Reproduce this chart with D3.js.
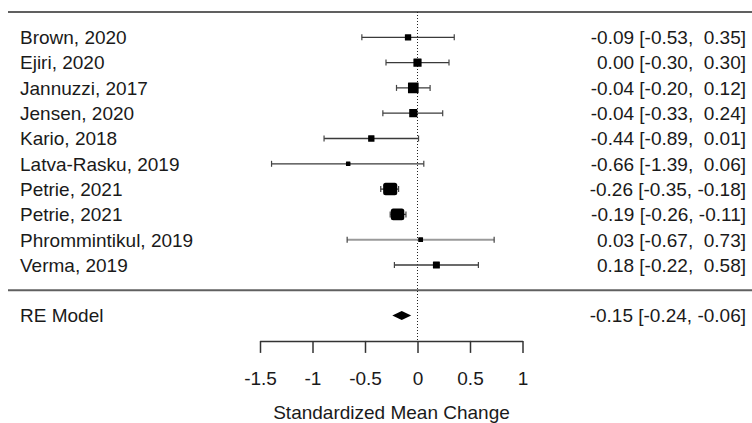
<!DOCTYPE html>
<html>
<head>
<meta charset="utf-8">
<script src="https://cdn.jsdelivr.net/npm/d3@7"></script>
<style>
  body { margin: 0; background: #fff; }
  text { font-family: "Liberation Sans", Arial, sans-serif; fill: #1a1a1a; white-space: pre; }
</style>
</head>
<body>
<svg id="forest" width="752" height="423"></svg>
<script>
// study data
let studies = ["Brown, 2020", "Ejiri, 2020", "Jannuzzi, 2017", "Jensen, 2020", "Kario, 2018",
  "Latva-Rasku, 2019", "Petrie, 2021", "Petrie, 2021", "Phrommintikul, 2019", "Verma, 2019"];
let estimates = [-0.09, 0.00, -0.04, -0.04, -0.44, -0.66, -0.26, -0.19, 0.03, 0.18];
let lowers = [-0.53, -0.30, -0.20, -0.33, -0.89, -1.39, -0.35, -0.26, -0.67, -0.22];
let uppers = [0.35, 0.30, 0.12, 0.24, 0.01, 0.06, -0.18, -0.11, 0.73, 0.58];
let weights = [7, 10, 14, 10, 7, 4, 17, 16, 4.5, 8]; // relative weights (marker size)

let pooledLabel = "RE Model";
let pooled = {est: -0.15, lo: -0.24, hi: -0.06};

let xTicks = [-1.5, -1, -0.5, 0, 0.5, 1];
let xTitle = "Standardized Mean Change";

let svg = d3.select("#forest");
let W = 752;

let x = d3.scaleLinear().domain([-1.5, 1]).range([260, 522.5]);
let y = d3.scaleLinear().domain([0, 1]).range([37.3, 62.6]); // row index -> px
let size = d3.scaleLinear().domain([4, 17]).range([4.5, 12.5]);

let fmt = v => v.toFixed(2);
let ciText = (e, lo, hi) => fmt(e) + " [" + fmt(lo) + "," + (hi < 0 ? " " : "  ") + fmt(hi) + "]";

// horizontal rules
svg.selectAll(".rule")
  .data([-1, 10])
  .join("line")
    .attr("x1", 8).attr("x2", W)
    .attr("y1", d => y(d)).attr("y2", d => y(d))
    .attr("stroke", "#606060").attr("stroke-width", 2);

// zero reference line
svg.append("line")
  .attr("x1", x(0)).attr("x2", x(0))
  .attr("y1", y(-1)).attr("y2", y(12))
  .attr("stroke", "#222").attr("stroke-width", 1)
  .attr("stroke-dasharray", "1,2");

let rows = studies.map((s, i) => ({
  name: s, est: estimates[i], lo: lowers[i], hi: uppers[i], w: weights[i], i: i
}));

let g = svg.selectAll(".study")
  .data(rows)
  .join("g")
    .attr("class", "study")
    .attr("transform", d => `translate(0,${y(d.i)})`);

g.append("line")
  .attr("x1", d => x(d.lo)).attr("x2", d => x(d.hi))
  .attr("stroke", d => d.name.startsWith("Phromm") ? "#9a9a9a" : "#3a3a3a")
  .attr("stroke-width", d => d.name.startsWith("Phromm") ? 2 : 1.3);

// whisker ends
["lo", "hi"].forEach(k => {
  g.append("line")
    .attr("x1", d => x(d[k])).attr("x2", d => x(d[k]))
    .attr("y1", -3).attr("y2", 3)
    .attr("stroke", "#444").attr("stroke-width", 1.2);
});

g.append("rect")
  .attr("x", d => x(d.est) - size(d.w) / 2 - (d.w > 15 ? 0.8 : 0))
  .attr("y", d => -size(d.w) / 2)
  .attr("width", d => size(d.w) + (d.w > 15 ? 1.6 : 0))
  .attr("height", d => size(d.w))
  .attr("rx", d => d.w > 15 ? 2.5 : 0.5)
  .attr("fill", "#000");

g.append("text")
  .attr("x", 20).attr("dy", "0.36em")
  .attr("font-size", 19)
  .text(d => d.name);

g.append("text")
  .attr("x", 746).attr("dy", "0.36em")
  .attr("text-anchor", "end")
  .attr("font-size", 19)
  .text(d => ciText(d.est, d.lo, d.hi));

// pooled estimate
let py = y(11);
svg.append("polygon")
  .attr("points", [
    [x(pooled.lo), py], [x(pooled.est), py - 4.5],
    [x(pooled.hi), py], [x(pooled.est), py + 4.5]
  ].map(p => p.join(",")).join(" "))
  .attr("fill", "#000");

svg.append("text")
  .attr("x", 20).attr("y", py).attr("dy", "0.36em")
  .attr("font-size", 19)
  .text(pooledLabel);

svg.append("text")
  .attr("x", 746).attr("y", py).attr("dy", "0.36em")
  .attr("text-anchor", "end")
  .attr("font-size", 19)
  .text(ciText(pooled.est, pooled.lo, pooled.hi));

// x axis
let axis = svg.append("g")
  .attr("transform", `translate(0,${y(12)})`)
  .call(d3.axisBottom(x).tickValues(xTicks).tickSize(12).tickSizeOuter(0).tickPadding(19)
    .tickFormat(d => String(d)));
axis.select(".domain").attr("stroke", "#333").attr("stroke-width", 1.5);
axis.selectAll(".tick line").attr("stroke", "#333").attr("stroke-width", 1.5);
axis.selectAll(".tick text")
  .attr("font-size", 19)
  .attr("font-family", "Liberation Sans, Arial, sans-serif")
  .attr("fill", "#1a1a1a");

svg.append("text")
  .attr("x", 391.5)
  .attr("y", 419)
  .attr("text-anchor", "middle")
  .attr("font-size", 19)
  .text(xTitle);
</script>
</body>
</html>
